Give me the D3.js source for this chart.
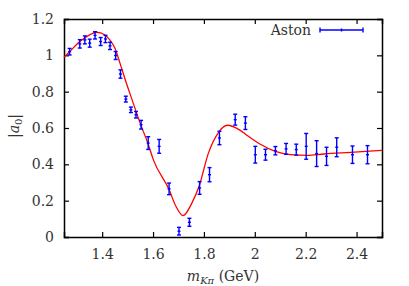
<!DOCTYPE html>
<html>
<head>
<meta charset="utf-8">
<script src="https://cdn.jsdelivr.net/npm/d3@7"></script>
<style>
  body { margin: 0; background: #fff; }
</style>
</head>
<body>
<div id="chart"></div>
<script>
// Aston data points: mass (GeV), |a0|, error
const mass = [1.272, 1.312, 1.332, 1.351, 1.372, 1.394, 1.413, 1.431, 1.453, 1.472,
              1.493, 1.513, 1.533, 1.553, 1.581, 1.624, 1.663, 1.702, 1.743, 1.783,
              1.822, 1.861, 1.923, 1.963, 2.002, 2.042, 2.081, 2.123, 2.163, 2.202,
              2.243, 2.282, 2.322, 2.384, 2.443];
const amp = [1.02, 1.063, 1.085, 1.067, 1.11, 1.076, 1.09, 1.052, 0.999, 0.897,
             0.759, 0.70, 0.673, 0.618, 0.517, 0.499, 0.265, 0.032, 0.081, 0.27,
             0.343, 0.545, 0.646, 0.627, 0.453, 0.453, 0.475, 0.485, 0.481, 0.499,
             0.459, 0.444, 0.494, 0.453, 0.453];
const err = [0.018, 0.023, 0.022, 0.022, 0.02, 0.022, 0.02, 0.02, 0.022, 0.023,
             0.016, 0.015, 0.018, 0.024, 0.035, 0.038, 0.032, 0.021, 0.022, 0.035,
             0.039, 0.037, 0.03, 0.035, 0.046, 0.03, 0.023, 0.03, 0.03, 0.071,
             0.071, 0.05, 0.052, 0.048, 0.05];

// fit curve
const fitMass = [1.25, 1.272, 1.312, 1.351, 1.378, 1.41, 1.43, 1.45, 1.47, 1.493,
                 1.513, 1.553, 1.58, 1.601, 1.663, 1.69, 1.718, 1.753, 1.781, 1.818,
                 1.857, 1.891, 1.943, 1.969, 2.02, 2.081, 2.14, 2.206, 2.272, 2.377, 2.5];
const fitAmp = [0.99, 1.02, 1.076, 1.113, 1.127, 1.113, 1.085, 1.04, 0.957, 0.856,
                0.774, 0.613, 0.515, 0.426, 0.261, 0.169, 0.118, 0.188, 0.279, 0.463,
                0.575, 0.615, 0.587, 0.56, 0.512, 0.471, 0.453, 0.449, 0.457, 0.466, 0.477];

const xTicks = [1.4, 1.6, 1.8, 2.0, 2.2, 2.4];
const yTicks = [0, 0.2, 0.4, 0.6, 0.8, 1.0, 1.2];

const width = 409, height = 286;
const margin = {left: 64, right: 27, top: 19, bottom: 49};
const font = "DejaVu Serif";

const svg = d3.select("#chart").append("svg")
    .attr("width", width)
    .attr("height", height)
    .attr("font-family", font);

const x = d3.scaleLinear().domain([1.25, 2.5]).range([margin.left, width - margin.right]);
const y = d3.scaleLinear().domain([0, 1.2]).range([height - margin.bottom, margin.top]);

const fmt = d => String(+d.toFixed(1));

// axes with inward ticks, mirrored
const tl = 5;
svg.append("g").attr("transform", `translate(0,${y(0)})`)
    .call(d3.axisBottom(x).tickValues(xTicks).tickSize(-tl).tickPadding(12).tickFormat(fmt));
svg.append("g").attr("transform", `translate(0,${y(1.2)})`)
    .call(d3.axisTop(x).tickValues(xTicks).tickSize(-tl).tickFormat(""));
svg.append("g").attr("transform", `translate(${x(1.25)},0)`)
    .call(d3.axisLeft(y).tickValues(yTicks).tickSize(-tl).tickPadding(10).tickFormat(fmt));
svg.append("g").attr("transform", `translate(${x(2.5)},0)`)
    .call(d3.axisRight(y).tickValues(yTicks).tickSize(-tl).tickFormat(""));

svg.selectAll("g").attr("font-family", font);
svg.selectAll(".domain").attr("stroke", "#000").attr("stroke-width", 1.5);
svg.selectAll(".tick line").attr("stroke", "#000").attr("stroke-width", 1.2);
svg.selectAll(".tick text").attr("font-size", 14).attr("fill", "#333");

// fit curve
svg.append("path")
    .datum(fitMass.map((m, i) => [m, fitAmp[i]]))
    .attr("fill", "none")
    .attr("stroke", "#ff0000")
    .attr("stroke-width", 1.3)
    .attr("d", d3.line().x(d => x(d[0])).y(d => y(d[1])).curve(d3.curveMonotoneX));

// error bars
const pts = mass.map((m, i) => ({m: m, v: amp[i], e: err[i]}));
const eb = svg.append("g").attr("stroke", "#0000ff").attr("stroke-width", 1.4);
const g = eb.selectAll("g").data(pts).enter().append("g");
g.append("line")
    .attr("x1", d => x(d.m)).attr("x2", d => x(d.m))
    .attr("y1", d => y(d.v - d.e)).attr("y2", d => y(d.v + d.e));
g.append("line")
    .attr("x1", d => x(d.m) - 2).attr("x2", d => x(d.m) + 2)
    .attr("y1", d => y(d.v - d.e)).attr("y2", d => y(d.v - d.e));
g.append("line")
    .attr("x1", d => x(d.m) - 2).attr("x2", d => x(d.m) + 2)
    .attr("y1", d => y(d.v + d.e)).attr("y2", d => y(d.v + d.e));
g.append("line")
    .attr("x1", d => x(d.m) - 1.5).attr("x2", d => x(d.m) + 1.5)
    .attr("y1", d => y(d.v)).attr("y2", d => y(d.v));

// legend
const lg = svg.append("g");
lg.append("text").attr("x", 311).attr("y", 35).attr("text-anchor", "end")
    .attr("font-size", 14).attr("fill", "#333").text("Aston");
const ly = 30;
lg.append("line").attr("x1", 320).attr("x2", 363).attr("y1", ly).attr("y2", ly)
    .attr("stroke", "#0000ff").attr("stroke-width", 1.4);
[320, 363].forEach(px => lg.append("line").attr("x1", px).attr("x2", px)
    .attr("y1", ly - 2.5).attr("y2", ly + 2.5).attr("stroke", "#0000ff").attr("stroke-width", 1.4));
lg.append("line").attr("x1", 341.5).attr("x2", 341.5).attr("y1", ly - 1.5).attr("y2", ly + 1.5)
    .attr("stroke", "#0000ff").attr("stroke-width", 1.4);

// axis titles
const xt = svg.append("text").attr("x", 223).attr("y", 281).attr("text-anchor", "middle")
    .attr("font-size", 14).attr("fill", "#333");
xt.append("tspan").attr("font-style", "italic").text("m");
xt.append("tspan").attr("font-style", "italic").attr("font-size", 10).attr("dy", 3).text("Kπ");
xt.append("tspan").attr("dy", -3).text(" (GeV)");

const yt = svg.append("text").attr("transform", "translate(19,126) rotate(-90)")
    .attr("text-anchor", "middle").attr("font-size", 14).attr("fill", "#333");
yt.append("tspan").text("|");
yt.append("tspan").attr("font-style", "italic").text("a");
yt.append("tspan").attr("font-size", 10).attr("dy", 3).text("0");
yt.append("tspan").attr("dy", -3).text("|");
</script>
</body>
</html>
